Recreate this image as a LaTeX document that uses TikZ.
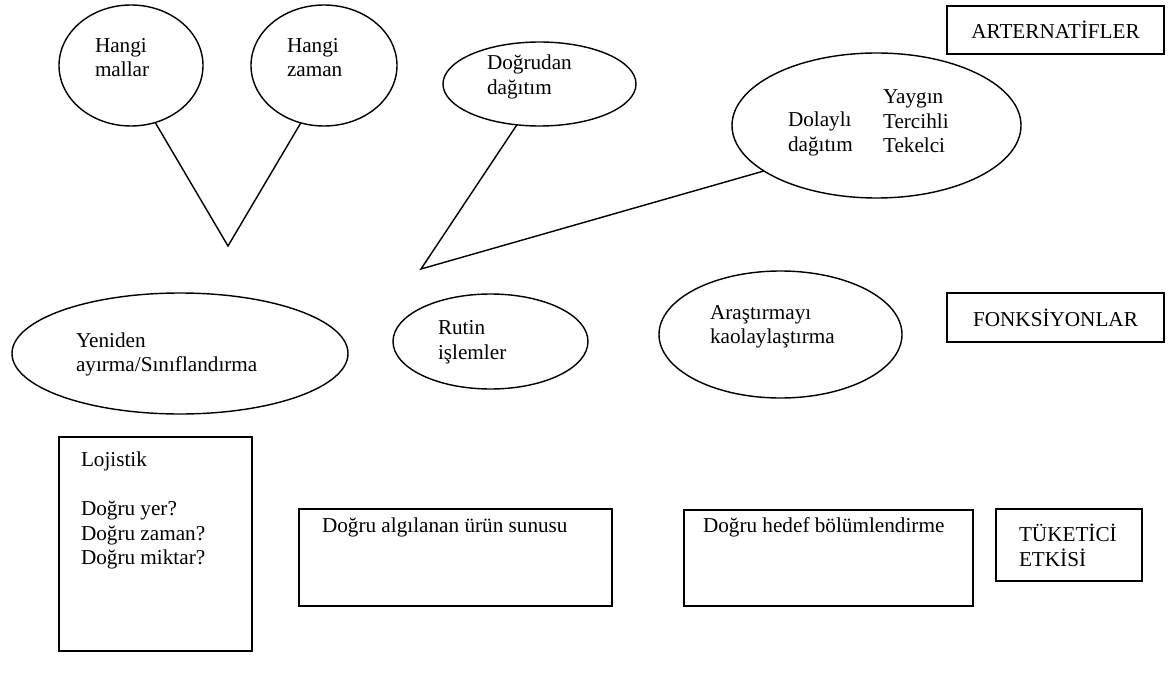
\documentclass[tikz,border=0pt]{standalone}
\usepackage{fontspec}
\setmainfont{Liberation Serif}
\usetikzlibrary{shapes.geometric}
\newdimen\px \px=0.566pt
\begin{document}
\begin{tikzpicture}[x=0.566pt,y=-0.566pt,
  every node/.style={font=\fontsize{12}{13.9}\selectfont, inner sep=0pt, outer sep=0pt},
  oval/.style={draw, ellipse, line width=0.8pt},
  boxnode/.style={draw, rectangle, line width=0.8pt},
  txt/.style={align=left, anchor=west},
  conn/.style={line width=0.8pt}]
\useasboundingbox (0,0) rectangle (1176,681);

% ellipses
\node[oval, minimum width=144\px, minimum height=121\px] (hm)  at (131,65.5) {};
\node[oval, minimum width=146\px, minimum height=121\px] (hz)  at (324,65.5) {};
\node[oval, minimum width=193\px, minimum height=84\px]  (dd)  at (539.5,84) {};
\node[oval, minimum width=289\px, minimum height=145\px] (dol) at (876.5,125.5) {};
\node[oval, minimum width=336\px, minimum height=121\px] (yen) at (180,353.5) {};
\node[oval, minimum width=195\px, minimum height=95\px]  (rut) at (490.5,341.5) {};
\node[oval, minimum width=243\px, minimum height=127\px] (ara) at (780.5,334.5) {};

% texts in ellipses
\node[txt] (thm)  at (95,57.5)   {Hangi\\mallar};
\node[txt] (thz)  at (287,57.5)  {Hangi\\zaman};
\node[txt] (tdd)  at (487,77)    {Doğrudan\\dağıtım};
\node[txt] (tdol) at (788,134)   {Dolaylı\\dağıtım};
\node[txt] (ttur) at (883,121.5) {Yaygın\\Tercihli\\Tekelci};
\node[txt] (tyen) at (76,354.5)  {Yeniden\\ayırma/Sınıflandırma};
\node[txt] (trut) at (438,342.5) {Rutin\\işlemler};
\node[txt] (tara) at (710,327)   {Araştırmayı\\kaolaylaştırma};

% connectors
\coordinate (v1) at (228,246);
\coordinate (v2) at (421,269);
\draw[conn] (hm.-67) -- (v1) -- (hz.-112);
\draw[conn] (dd.-119) -- (v2) -- (dol.-158);

% boxes
\node[boxnode, minimum width=217\px, minimum height=48\px] (art) at (1055.5,30) {ARTERNATİFLER};
\node[boxnode, minimum width=217\px, minimum height=49\px] (fon) at (1055.5,317.5) {FONKSİYONLAR};
\node[boxnode, minimum width=193\px, minimum height=214\px] (loj) at (155.5,544) {};
\node[boxnode, minimum width=313\px, minimum height=97\px] (alg) at (455.5,557.5) {};
\node[boxnode, minimum width=289\px, minimum height=96\px] (hed) at (828.5,558) {};
\node[boxnode, minimum width=146\px, minimum height=72\px] (tuk) at (1069,545) {};

% texts in boxes
\node[anchor=north west, align=left] (tloj) at (81,452) {Lojistik\\[\baselineskip]Doğru yer?\\Doğru zaman?\\Doğru miktar?};
\node[txt] (talg) at (322,527) {Doğru algılanan ürün sunusu};
\node[txt] (thed) at (703,527) {Doğru hedef bölümlendirme};
\node[txt] (ttuk) at (1019,545.5) {TÜKETİCİ\\ETKİSİ};
\end{tikzpicture}
\end{document}
